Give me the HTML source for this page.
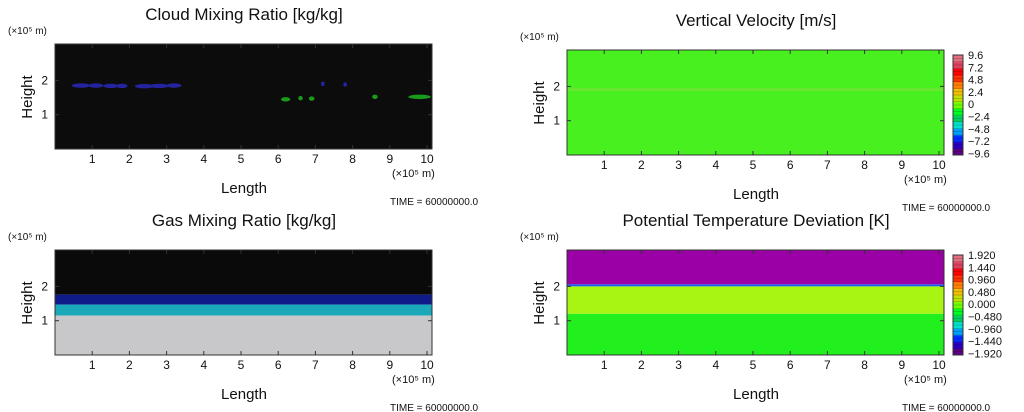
<!DOCTYPE html>
<html><head><meta charset="utf-8"><style>
html,body{margin:0;padding:0;background:#fff;width:1024px;height:412px;overflow:hidden}
svg text{font-family:"Liberation Sans","DejaVu Sans",sans-serif;fill:#111}
</style></head><body>
<svg id="fig" width="1024" height="412" xmlns="http://www.w3.org/2000/svg"></svg>
<script>
const xTicks=[1,2,3,4,5,6,7,8,9,10];
const yTicks=[1,2];
const wLabels=["9.6","7.2","4.8","2.4","0","\u22122.4","\u22124.8","\u22127.2","\u22129.6"];
const tLabels=["1.920","1.440","0.960","0.480","0.000","\u22120.480","\u22120.960","\u22121.440","\u22121.920"];
// cloud blobs: [x, height, width, color]
const cloudX=[0.7,1.1,1.5,1.8,2.4,2.8,3.2,7.2,7.8,6.2,6.6,6.9,8.6,9.8];
const cloudH=[1.85,1.85,1.84,1.84,1.83,1.84,1.85,1.9,1.88,1.45,1.48,1.47,1.52,1.52];
const cloudW=[0.5,0.4,0.4,0.3,0.5,0.5,0.4,0.1,0.1,0.25,0.12,0.15,0.15,0.6];
const cloudC=["b","b","b","b","b","b","b","b","b","g","g","g","g","g"];
// layer bounds
const gasLayers=[[1.76,3.1,"#0a0a0a"],[1.47,1.76,"#101b8a"],[1.15,1.47,"#1aa9b8"],[0,1.15,"#c8c8ca"]];
const thLayers=[[2.06,3.1,"#9a00a6"],[2.0,2.06,"#1d5cf0"],[1.2,2.0,"#a8f514"],[0,1.2,"#22f01e"]];

const NS="http://www.w3.org/2000/svg";
const svg=document.getElementById('fig');
function mk(tag,attrs,parent,txt){const e=document.createElementNS(NS,tag);for(const k in attrs)e.setAttribute(k,attrs[k]);if(txt!=null)e.textContent=txt;(parent||svg).appendChild(e);return e;}
const PW=377,PH=105;
function panel(ox,oy,title,name){
  const g=mk('g',{transform:`translate(${ox},${oy})`});
  
  
  const X=v=>55+v*37.2, Y=v=>149-v*34.3;
  const t=mk('text',{x:244,y:20,'font-size':17,'text-anchor':'middle'},g,title);
  
  const u=mk('text',{x:8,y:34,'font-size':10},g,'(×10⁵ m)');
  
  const plot=mk('g',{},g);
  
  mk('rect',{x:55,y:44,width:PW,height:PH,fill:'#fff'},plot);
  xTicks.forEach(v=>{const e=mk('text',{x:X(v),y:163,'font-size':12,'text-anchor':'middle'},g,v);
    });
  yTicks.forEach(v=>{const e=mk('text',{x:48,y:Y(v)+4,'font-size':12,'text-anchor':'end'},g,v);
    });
  const xu=mk('text',{x:392,y:177,'font-size':11},g,'(×10⁵ m)');
  
  const xl=mk('text',{x:244,y:193,'font-size':15,'text-anchor':'middle'},g,'Length');
  
  const yl=mk('text',{x:32,y:97,'font-size':15,'text-anchor':'middle',transform:'rotate(-90 32 97)'},g,'Height');
  
  const tm=mk('text',{x:390,y:205,'font-size':10,fill:'#444'},g,'TIME = 60000000.0');
  
  return {g,plot,X,Y};
}
function frame(p){
  mk('rect',{x:55,y:44,width:PW,height:PH,fill:'none',stroke:'#333','stroke-width':1},p.g);
  xTicks.forEach(v=>{mk('line',{x1:p.X(v),x2:p.X(v),y1:149,y2:145,stroke:'#333'},p.g);mk('line',{x1:p.X(v),x2:p.X(v),y1:44,y2:48,stroke:'#333'},p.g);});
  yTicks.forEach(v=>{mk('line',{x1:55,x2:59,y1:p.Y(v),y2:p.Y(v),stroke:'#333'},p.g);mk('line',{x1:432,x2:428,y1:p.Y(v),y2:p.Y(v),stroke:'#333'},p.g);});
}
function layers(p,arr){
  arr.forEach(L=>{const y1=Math.max(44,p.Y(L[1])),y2=p.Y(L[0]);
    const r=mk('rect',{x:55,y:y1,width:PW,height:y2-y1,fill:L[2]},p.plot);
    });
}
function colorbar(p,labels){
  const cb=mk('g',{},p.g);
  
  const cols=["#5a0080","#2a00c0","#0030ff","#00a0ff","#00e0d0","#00d060","#00ff20","#70ff00","#c0e000","#f0c000","#ff8000","#ff3000","#ff0000","#e04060","#e07080"];
  const n=cols.length,h=100/n;
  cols.forEach((c,i)=>mk('rect',{x:441,y:149-(i+1)*h,width:10,height:h+0.5,fill:c},cb));
  for(let i=0;i<=30;i++)mk('line',{x1:441,x2:451,y1:49+i*100/30,y2:49+i*100/30,stroke:'#000','stroke-opacity':0.35,'stroke-width':0.5},cb);
  mk('rect',{x:441,y:49,width:10,height:100,fill:'none',stroke:'#333'},cb);
  labels.forEach((l,i)=>{const e=mk('text',{x:456,y:53+i*12.3,'font-size':11},cb,l);
    });
}
const p1=panel(0,0,'Cloud Mixing Ratio [kg/kg]','cloud-mixing-panel');
layers(p1,[[0,3.1,"#0c0c0c"]]);
cloudX.forEach((x,i)=>{const e=mk('ellipse',{cx:p1.X(x),cy:p1.Y(cloudH[i]),rx:cloudW[i]*37.2/2,ry:2.2,fill:cloudC[i]=='b'?'#2424a0':'#1a9a1a'},p1.plot);
  });
frame(p1);
const p2=panel(512,6,'Vertical Velocity [m/s]','vertical-velocity-panel');
layers(p2,[[0,3.1,"#48f020"]]);
mk('rect',{x:55,y:p2.Y(1.95),width:PW,height:3,fill:'#80e040',opacity:0.6},p2.plot);
frame(p2);colorbar(p2,wLabels);
const p3=panel(0,206,'Gas Mixing Ratio [kg/kg]','gas-mixing-panel');
layers(p3,gasLayers);frame(p3);
const p4=panel(512,206,'Potential Temperature Deviation [K]','potential-temperature-panel');
layers(p4,thLayers);frame(p4);colorbar(p4,tLabels);
</script>
</body></html>
